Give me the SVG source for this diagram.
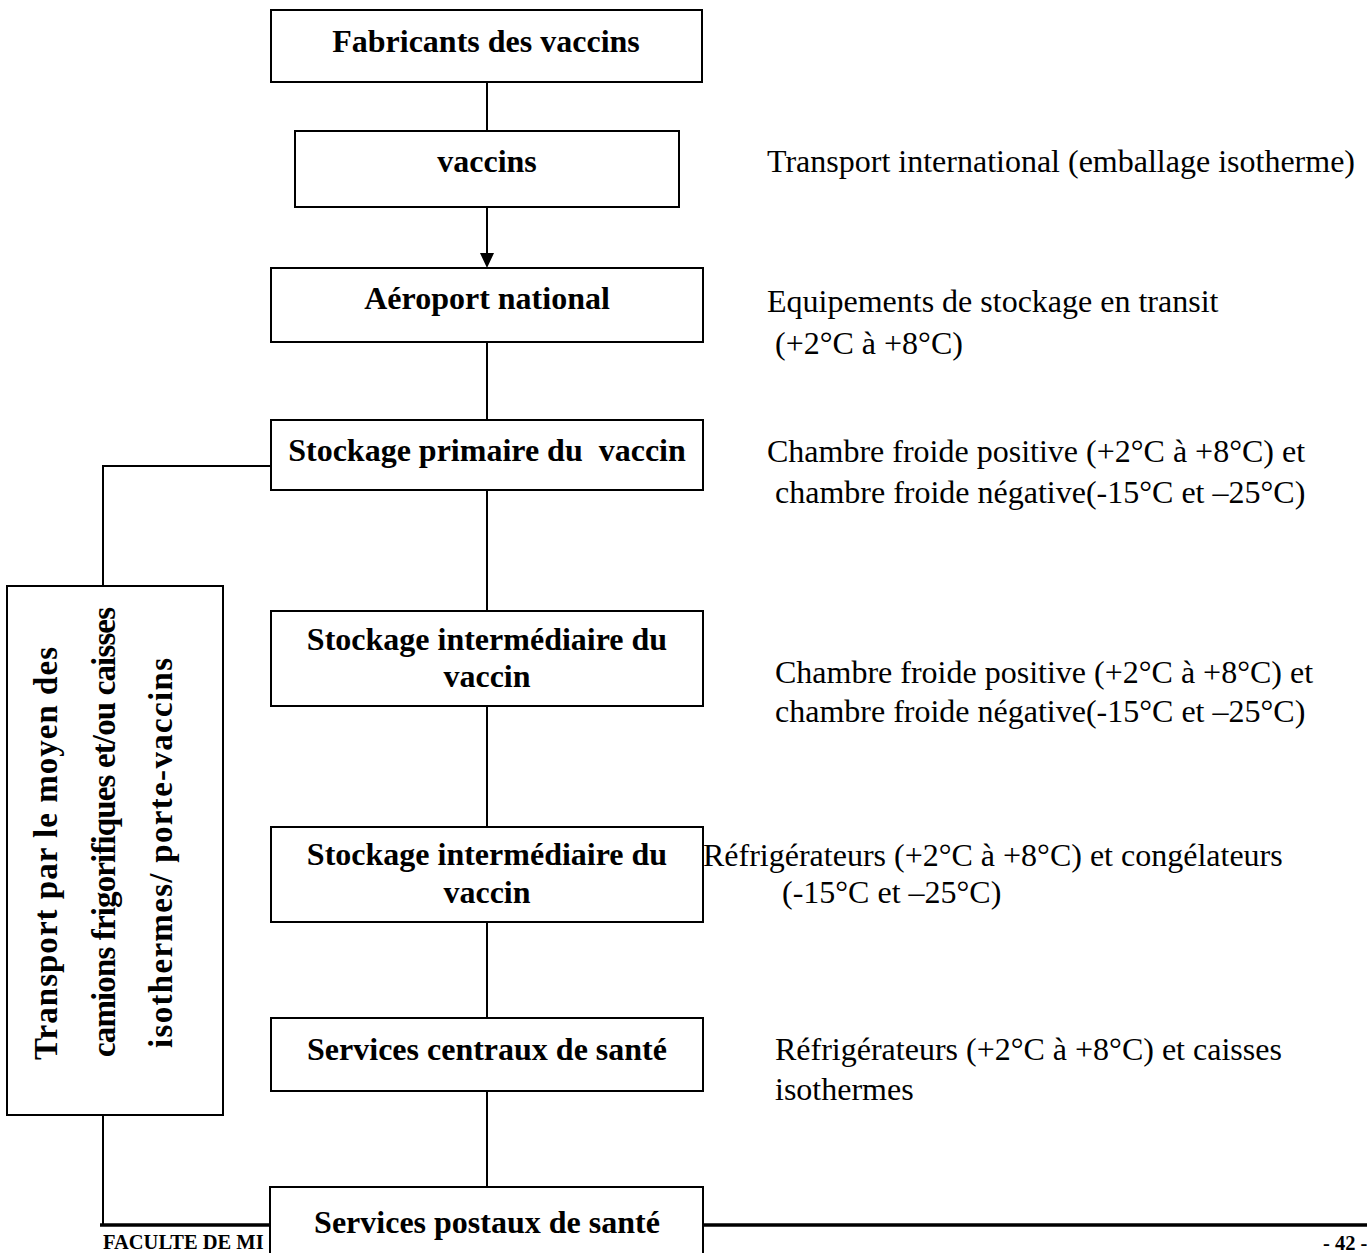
<svg xmlns="http://www.w3.org/2000/svg" width="1367" height="1253" viewBox="0 0 1367 1253">
  <style>
    .box { fill: #ffffff; stroke: #000000; stroke-width: 2; }
    .link { fill: none; stroke: #000000; stroke-width: 2; }
    .lbl { font-family: "Liberation Serif", "Times New Roman", serif; font-weight: bold; font-size: 32px; fill: #000000; text-anchor: middle; }
    .side { font-family: "Liberation Serif", "Times New Roman", serif; font-size: 32px; fill: #000000; }
    .vert { font-family: "Liberation Serif", "Times New Roman", serif; font-weight: bold; font-size: 33px; fill: #000000; }
    .foot { font-family: "Liberation Serif", "Times New Roman", serif; font-weight: bold; font-size: 20.5px; fill: #000000; }
  </style>
  <rect width="1367" height="1253" fill="#ffffff"/>

  <!-- page footer (partly hidden by the last box) -->
  <g id="footer">
    <line x1="100" y1="1225" x2="1367" y2="1225" stroke="#000000" stroke-width="3.5"/>
    <text class="foot" x="103" y="1249">FACULTE DE MI</text>
    <text class="foot" x="1323" y="1250">- 42 -</text>
  </g>

  <!-- connectors -->
  <g id="connectors">
    <line class="link" x1="487" y1="82" x2="487" y2="131"/>
    <line class="link" x1="487" y1="203" x2="487" y2="255"/>
    <polygon points="480,253 494,253 487,268" fill="#000000"/>
    <line class="link" x1="487" y1="342" x2="487" y2="420"/>
    <line class="link" x1="487" y1="490" x2="487" y2="611"/>
    <line class="link" x1="487" y1="706" x2="487" y2="827"/>
    <line class="link" x1="487" y1="922" x2="487" y2="1018"/>
    <line class="link" x1="487" y1="1091" x2="487" y2="1187"/>
    <polyline class="link" points="271,466 103,466 103,586"/>
    <line class="link" x1="103" y1="1115" x2="103" y2="1225"/>
  </g>

  <g id="fabricants">
    <rect class="box" x="271" y="10" width="431" height="72"/>
    <text class="lbl" x="486" y="52">Fabricants des vaccins</text>
  </g>

  <g id="vaccins">
    <rect class="box" x="295" y="131" width="384" height="76"/>
    <text class="lbl" x="487" y="172">vaccins</text>
  </g>

  <g id="aeroport">
    <rect class="box" x="271" y="268" width="432" height="74"/>
    <text class="lbl" x="487" y="309">Aéroport national</text>
  </g>

  <g id="stockage-primaire">
    <rect class="box" x="271" y="420" width="432" height="70"/>
    <text class="lbl" x="487" y="461" xml:space="preserve">Stockage primaire du  vaccin</text>
  </g>

  <g id="stockage-intermediaire-1">
    <rect class="box" x="271" y="611" width="432" height="95"/>
    <text class="lbl" x="487" y="650">Stockage intermédiaire du</text>
    <text class="lbl" x="487" y="687">vaccin</text>
  </g>

  <g id="stockage-intermediaire-2">
    <rect class="box" x="271" y="827" width="432" height="95"/>
    <text class="lbl" x="487" y="865">Stockage intermédiaire du</text>
    <text class="lbl" x="487" y="903">vaccin</text>
  </g>

  <g id="services-centraux">
    <rect class="box" x="271" y="1018" width="432" height="73"/>
    <text class="lbl" x="487" y="1060">Services centraux de santé</text>
  </g>

  <g id="services-postaux">
    <rect class="box" x="270" y="1187" width="433" height="80"/>
    <text class="lbl" x="487" y="1233">Services postaux de santé</text>
  </g>

  <g id="transport-national">
    <rect class="box" x="7" y="586" width="216" height="529"/>
    <text class="vert" transform="translate(57,1060) rotate(-90)" textLength="413" lengthAdjust="spacing">Transport par le moyen des</text>
    <text class="vert" transform="translate(115,1057) rotate(-90)" textLength="450" lengthAdjust="spacing">camions frigorifiques et/ou caisses</text>
    <text class="vert" transform="translate(172,1048) rotate(-90)" textLength="390" lengthAdjust="spacing">isothermes/ porte-vaccins</text>
  </g>

  <!-- equipment notes beside each stage -->
  <g id="notes">
    <text class="side" x="767" y="172">Transport international (emballage isotherme)</text>
    <text class="side" x="767" y="312">Equipements de stockage en transit</text>
    <text class="side" x="775" y="354">(+2°C à +8°C)</text>
    <text class="side" x="767" y="462">Chambre froide positive (+2°C à +8°C) et</text>
    <text class="side" x="775" y="503">chambre froide négative(-15°C et –25°C)</text>
    <text class="side" x="775" y="683">Chambre froide positive (+2°C à +8°C) et</text>
    <text class="side" x="775" y="722">chambre froide négative(-15°C et –25°C)</text>
    <text class="side" x="703" y="866">Réfrigérateurs (+2°C à +8°C) et congélateurs</text>
    <text class="side" x="782" y="903">(-15°C et –25°C)</text>
    <text class="side" x="775" y="1060">Réfrigérateurs (+2°C à +8°C) et caisses</text>
    <text class="side" x="775" y="1100">isothermes</text>
  </g>
</svg>
